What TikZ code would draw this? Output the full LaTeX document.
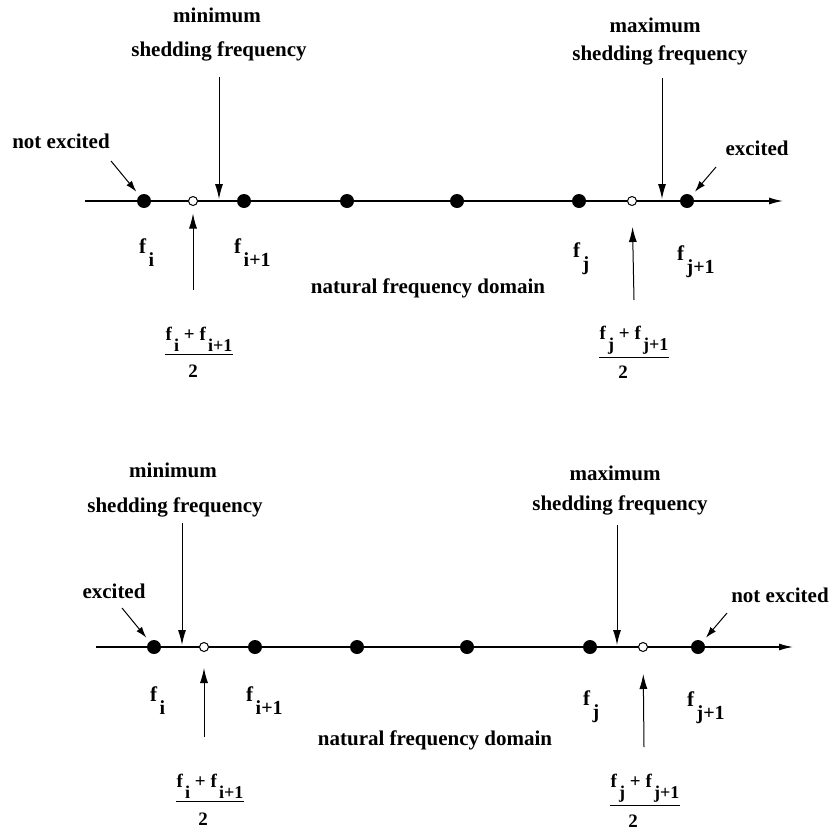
\documentclass[tikz,border=0pt]{standalone}
\usepackage{fontspec}
\setmainfont{Liberation Serif}
\usetikzlibrary{arrows.meta}
\newcommand{\fsub}[1]{f\kern0.12em\raisebox{-0.62em}{\scalebox{0.95}{#1}}}

\begin{document}
\begin{tikzpicture}[x=1pt,y=-1pt,
  lbl/.style={font=\bfseries\fontsize{21}{25}\selectfont,anchor=base,inner sep=0pt},
  flbl/.style={font=\bfseries\fontsize{21}{25}\selectfont,anchor=base west,inner sep=0pt},
  fraclbl/.style={font=\bfseries\fontsize{19}{23}\selectfont,anchor=base,inner sep=0pt},
  dot/.style={circle,fill=black,inner sep=0pt,minimum size=14pt},
  hollow/.style={circle,draw=black,fill=white,line width=1pt,inner sep=0pt,minimum size=9pt},
  axis/.style={line width=1.3pt,-{Latex[length=14pt,width=7pt]}},
  pointer/.style={line width=1pt,-{Latex[length=15pt,width=8pt]}},
  tick/.style={line width=1pt,-{Latex[length=11pt,width=7pt]},shorten >=5pt}]

\useasboundingbox (0,0) rectangle (829,833);

% ---------- upper case ----------

% Axis
\coordinate (ua) at (85,201);
\coordinate (ub) at (783,201);
\draw[axis] (ua) -- (ub);

% Natural frequencies
\node[hollow] (umi) at (193,201) {};
\node[hollow] (umj) at (632,201) {};
\node[dot] (ufi) at (144,201) {};
\node[dot] (ufi1) at (244,201) {};
\node[dot] (uf3) at (347,201) {};
\node[dot] (uf4) at (457,201) {};
\node[dot] (ufj) at (579,201) {};
\node[dot] (ufj1) at (687,201) {};

% Shedding frequency limits
\node[lbl] (uminw) at (217,22) {minimum};
\node[lbl] (uminf) at (219,56) {shedding frequency};
\node[lbl] (umaxw) at (655,32) {maximum};
\node[lbl] (umaxf) at (660,60) {shedding frequency};
\coordinate (uminp) at (219,77);
\coordinate (uminq) at (219,199);
\coordinate (umaxp) at (662,78);
\coordinate (umaxq) at (662,199);
\draw[pointer] (uminp) -- (uminq); % minimum
\draw[pointer] (umaxp) -- (umaxq); % maximum

% Excitation remarks
\node[lbl] (unot) at (61,148) {not excited};
\node[lbl] (uexc) at (757,155) {excited};
\coordinate (unotp) at (111,161);
\coordinate (uexcp) at (716,167);
\draw[tick] (unotp) -- (ufi);
\draw[tick] (uexcp) -- (ufj1);

% Frequency labels
\node[flbl] (ulfi) at (139,253) {\fsub{i}};
\node[flbl] (ulfi1) at (234,253) {\fsub{i+1}};
\node[flbl] (ulfj) at (573,257) {\fsub{j}};
\node[flbl] (ulfj1) at (677,260) {\fsub{j+1}};
\node[lbl] (udom) at (428,293) {natural frequency domain};

% Mid points
\node[fraclbl] (unumi) at (199,340) {\fsub{i} + \fsub{i+1}};
\node[fraclbl] (utwoi) at (193,377) {2};
\draw[line width=1pt] ([yshift=-3pt]unumi.south west) -- ([yshift=-3pt]unumi.south east);
\node[fraclbl] (unumj) at (634,339) {\fsub{j}\ +\ \fsub{j+1}};
\node[fraclbl] (utwoj) at (623,378) {2};
\draw[line width=1pt] ([yshift=-3pt]unumj.south west) -- ([yshift=-3pt]unumj.south east);
\coordinate (umip) at (193,290);
\coordinate (umjp) at (634,300);
\draw[pointer,shorten >=7.5pt] (umip) -- (umi);
\draw[pointer,shorten >=21pt] (umjp) -- (umj);

% ---------- lower case ----------

% Axis
\coordinate (la) at (96,647);
\coordinate (lb) at (793,647);
\draw[axis] (la) -- (lb);

% Natural frequencies
\node[hollow] (lmi) at (204,647) {};
\node[hollow] (lmj) at (643,647) {};
\node[dot] (lfi) at (154,647) {};
\node[dot] (lfi1) at (255,647) {};
\node[dot] (lf3) at (357,647) {};
\node[dot] (lf4) at (467,647) {};
\node[dot] (lfj) at (590,647) {};
\node[dot] (lfj1) at (698,647) {};

% Shedding frequency limits
\node[lbl] (lminw) at (173,477) {minimum};
\node[lbl] (lminf) at (175,512) {shedding frequency};
\node[lbl] (lmaxw) at (615,480) {maximum};
\node[lbl] (lmaxf) at (620,510) {shedding frequency};
\coordinate (lminp) at (182,523);
\coordinate (lminq) at (182,645);
\coordinate (lmaxp) at (617,525);
\coordinate (lmaxq) at (617,645);
\draw[pointer] (lminp) -- (lminq); % minimum
\draw[pointer] (lmaxp) -- (lmaxq); % maximum

% Excitation remarks
\node[lbl] (lexc) at (114,598) {excited};
\node[lbl] (lnot) at (780,602) {not excited};
\coordinate (lexcp) at (122,608);
\coordinate (lnotp) at (727,613);
\draw[tick] (lexcp) -- (lfi);
\draw[tick] (lnotp) -- (lfj1);

% Frequency labels
\node[flbl] (llfi) at (150,701) {\fsub{i}};
\node[flbl] (llfi1) at (246,701) {\fsub{i+1}};
\node[flbl] (llfj) at (583,705) {\fsub{j}};
\node[flbl] (llfj1) at (687,706) {\fsub{j+1}};
\node[lbl] (ldom) at (435,745) {natural frequency domain};

% Mid points
\node[fraclbl] (lnumi) at (210,787) {\fsub{i} + \fsub{i+1}};
\node[fraclbl] (ltwoi) at (203,825) {2};
\draw[line width=1pt] ([yshift=-3pt]lnumi.south west) -- ([yshift=-3pt]lnumi.south east);
\node[fraclbl] (lnumj) at (645,787) {\fsub{j}\ +\ \fsub{j+1}};
\node[fraclbl] (ltwoj) at (633,827) {2};
\draw[line width=1pt] ([yshift=-3pt]lnumj.south west) -- ([yshift=-3pt]lnumj.south east);
\coordinate (lmip) at (204,737);
\coordinate (lmjp) at (644,747);
\draw[pointer,shorten >=16pt] (lmip) -- (lmi);
\draw[pointer,shorten >=22pt] (lmjp) -- (lmj);

\end{tikzpicture}
\end{document}
